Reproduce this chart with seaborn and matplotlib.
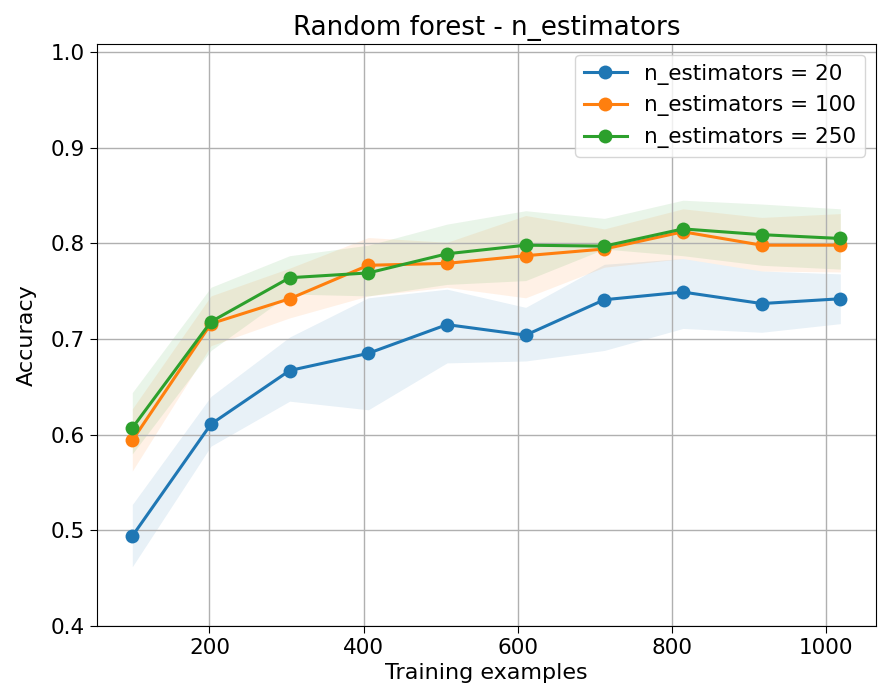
import numpy as np
import pandas as pd
import matplotlib
matplotlib.use("Agg")
import matplotlib.pyplot as plt
import seaborn as sns

train_sizes = [100, 202, 304, 406, 508, 610, 712, 814, 916, 1018]
labels = ["n_estimators = 20", "n_estimators = 100", "n_estimators = 250"]

mean_20 = [0.494, 0.611, 0.667, 0.685, 0.715, 0.704, 0.741, 0.749, 0.737, 0.742]
upper_20 = [0.527, 0.640, 0.702, 0.743, 0.752, 0.733, 0.778, 0.784, 0.771, 0.768]
lower_20 = [0.462, 0.588, 0.635, 0.626, 0.675, 0.677, 0.688, 0.711, 0.707, 0.716]

mean_100 = [0.594, 0.716, 0.742, 0.777, 0.779, 0.787, 0.794, 0.812, 0.798, 0.798]
upper_100 = [0.627, 0.745, 0.774, 0.806, 0.801, 0.829, 0.815, 0.836, 0.827, 0.831]
lower_100 = [0.562, 0.693, 0.722, 0.745, 0.754, 0.743, 0.775, 0.784, 0.771, 0.770]

mean_250 = [0.607, 0.718, 0.764, 0.769, 0.789, 0.798, 0.797, 0.815, 0.809, 0.805]
upper_250 = [0.644, 0.754, 0.787, 0.798, 0.820, 0.834, 0.826, 0.845, 0.841, 0.836]
lower_250 = [0.580, 0.688, 0.747, 0.745, 0.757, 0.761, 0.794, 0.787, 0.777, 0.773]

means = [mean_20, mean_100, mean_250]
uppers = [upper_20, upper_100, upper_250]
lowers = [lower_20, lower_100, lower_250]

rows = []
for lab, m in zip(labels, means):
    for x, v in zip(train_sizes, m):
        rows.append({"Training examples": x, "Accuracy": v, "series": lab})
df = pd.DataFrame(rows)

palette = ["#1f77b4", "#ff7f0e", "#2ca02c"]

fig = plt.figure(figsize=(8.81, 6.91), dpi=100)
ax = fig.add_axes([0.110, 0.094, 0.884, 0.842])

for lo, hi, c in zip(lowers, uppers, palette):
    ax.fill_between(train_sizes, lo, hi, color=c, alpha=0.1, linewidth=0)

sns.lineplot(data=df, x="Training examples", y="Accuracy", hue="series",
             palette=palette, marker="o", markersize=10, markeredgewidth=0,
             linewidth=2.2, ax=ax)

ax.set_ylim(0.4, 1.008)
ax.set_yticks([0.4, 0.5, 0.6, 0.7, 0.8, 0.9, 1.0])
ax.set_xticks([200, 400, 600, 800, 1000])
ax.grid(True, color="#b0b0b0", linewidth=1)
ax.tick_params(labelsize=15.5, length=5)
ax.set_xlabel("Training examples", fontsize=16, labelpad=4)
ax.set_ylabel("Accuracy", fontsize=16, labelpad=10)
ax.set_title("Random forest - n_estimators", fontsize=18.8, pad=7)
for s in ax.spines.values():
    s.set_color("black")
leg = ax.legend(loc="upper right", fontsize=15.5, title=None)

fig.savefig("out.png", dpi=100)
